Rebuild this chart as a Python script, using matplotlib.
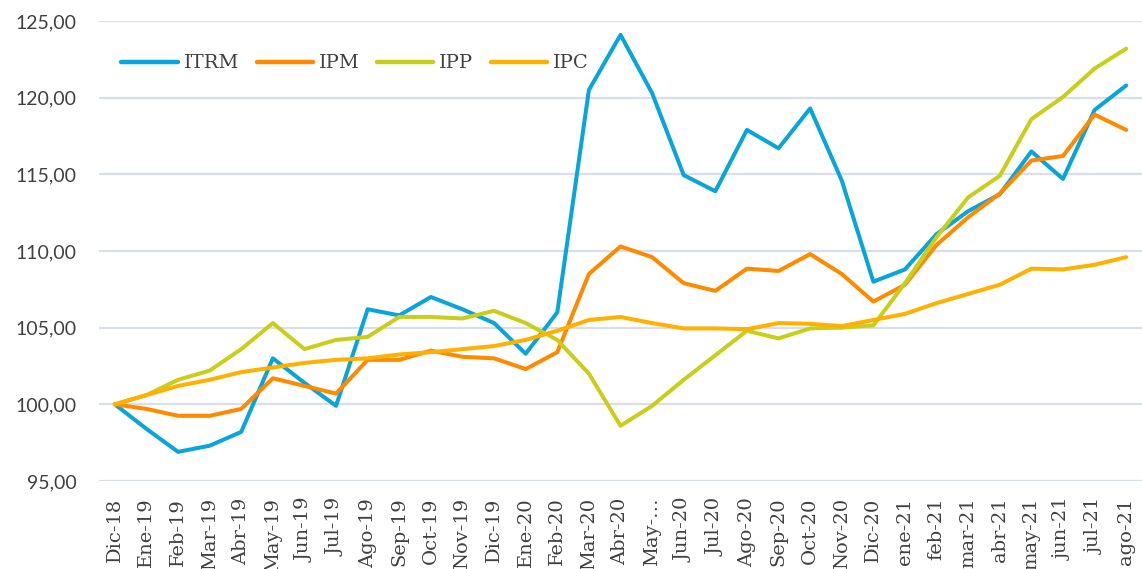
import matplotlib.pyplot as plt
from matplotlib.ticker import FuncFormatter

meses = ['Dic-18', 'Ene-19', 'Feb-19', 'Mar-19', 'Abr-19', 'May-19', 'Jun-19', 'Jul-19',
         'Ago-19', 'Sep-19', 'Oct-19', 'Nov-19', 'Dic-19', 'Ene-20', 'Feb-20', 'Mar-20',
         'Abr-20', 'May-…', 'Jun-20', 'Jul-20', 'Ago-20', 'Sep-20', 'Oct-20', 'Nov-20',
         'Dic-20', 'ene-21', 'feb-21', 'mar-21', 'abr-21', 'may-21', 'jun-21', 'jul-21',
         'ago-21']

itrm = [100.0, 98.4, 96.9, 97.3, 98.2, 103.0, 101.4, 99.9, 106.2, 105.8, 107.0, 106.2,
        105.3, 103.3, 106.0, 120.5, 124.1, 120.3, 114.95, 113.9, 117.9, 116.7, 119.3, 114.6,
        108.0, 108.8, 111.1, 112.6, 113.7, 116.5, 114.7, 119.2, 120.8]
ipm = [100.0, 99.7, 99.25, 99.25, 99.7, 101.7, 101.2, 100.7, 102.9, 102.9, 103.5, 103.1,
       103.0, 102.3, 103.4, 108.5, 110.3, 109.6, 107.9, 107.4, 108.85, 108.7, 109.8, 108.5,
       106.7, 107.8, 110.4, 112.2, 113.75, 115.9, 116.2, 118.9, 117.9]
ipp = [100.0, 100.6, 101.6, 102.2, 103.6, 105.3, 103.6, 104.2, 104.4, 105.7, 105.7, 105.6,
       106.1, 105.3, 104.2, 102.0, 98.6, 99.9, 101.6, 103.2, 104.8, 104.3, 104.95, 105.0,
       105.15, 107.9, 110.9, 113.5, 114.9, 118.6, 120.05, 121.9, 123.2]
ipc = [100.0, 100.6, 101.2, 101.6, 102.1, 102.4, 102.7, 102.9, 103.0, 103.25, 103.4, 103.6,
       103.8, 104.2, 104.8, 105.5, 105.7, 105.3, 104.95, 104.95, 104.9, 105.3, 105.25, 105.1,
       105.5, 105.9, 106.6, 107.2, 107.8, 108.85, 108.8, 109.1, 109.6]

series = [('ITRM', itrm, '#0AA5D8'), ('IPM', ipm, '#FF8A00'),
          ('IPP', ipp, '#C8CF1A'), ('IPC', ipc, '#FFB000')]

fig = plt.figure(figsize=(11.42, 5.69), dpi=100)
ax = fig.add_axes([0.0867, 0.1547, 0.9133, 0.8083])

x = list(range(len(meses)))
for name, vals, col in series:
    ax.plot(x, vals, color=col, linewidth=2.9, label=name, solid_capstyle='round')

ax.set_xlim(-0.5, len(meses) - 0.5)
ax.set_ylim(95, 125)
ax.set_yticks([95, 100, 105, 110, 115, 120, 125])
ax.yaxis.set_major_formatter(FuncFormatter(lambda v, p: f'{v:.2f}'.replace('.', ',')))
ax.grid(axis='y', color='#D9DEEA', linewidth=1.6)
ax.set_axisbelow(True)
for s in ax.spines.values():
    s.set_visible(False)
ax.tick_params(length=0)

ax.set_xticks(x)
ax.set_xticklabels(meses, rotation=90, fontsize=14, family='DejaVu Serif', color='#404040')
ax.tick_params(axis='x', pad=12)
for lab in ax.get_yticklabels():
    lab.set_fontsize(14)
    lab.set_family('Lato')
    lab.set_color('#404040')
ax.tick_params(axis='y', pad=16)

leg = ax.legend(loc='upper left', bbox_to_anchor=(0.091, 0.935), bbox_transform=fig.transFigure,
                ncol=4, frameon=False, handlelength=2.9, handletextpad=0.3, columnspacing=0.9,
                prop={'family': 'DejaVu Serif', 'size': 14})
for t in leg.get_texts():
    t.set_color('#404040')
for h in leg.get_lines():
    h.set_linewidth(3.2)

fig.savefig('out.png', dpi=100)
